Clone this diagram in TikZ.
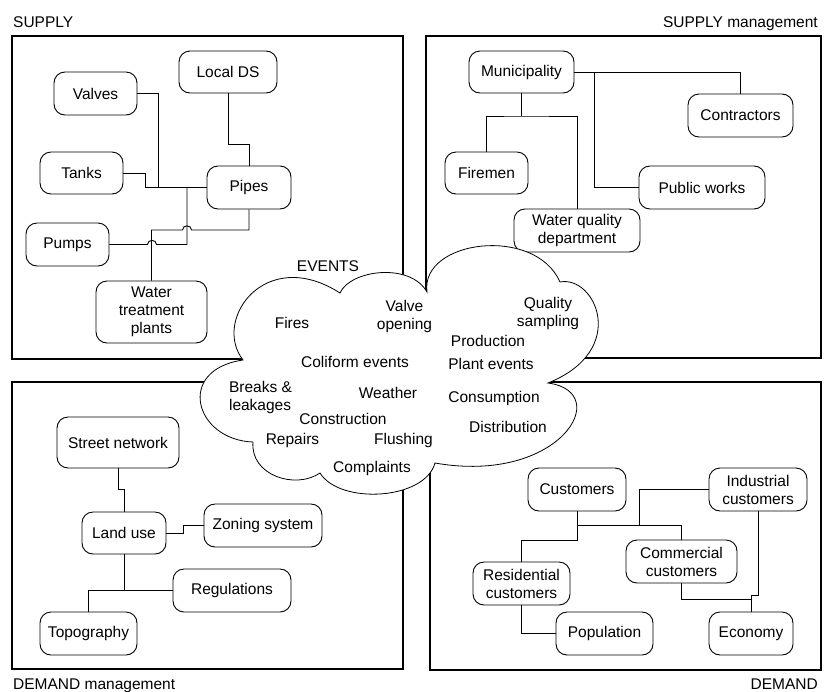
\documentclass[tikz,border=0pt]{standalone}
\usepackage{fontspec}
\setmainfont{Liberation Sans}
\begin{document}
\begin{tikzpicture}[x=1pt,y=-1pt,
  box/.style={draw, line width=0.9pt, rounded corners=11pt, align=center, inner sep=0pt, fill=white,
    font=\fontsize{15.5}{18}\selectfont},
  frame/.style={draw, line width=1.2pt},
  conn/.style={draw, line width=0.9pt},
  lbl/.style={inner sep=0pt, font=\fontsize{15.5}{18}\selectfont},
  ev/.style={inner sep=0pt, align=center, font=\fontsize{15.5}{18}\selectfont}]
\useasboundingbox (0,0) rectangle (827,691);
% frames
\path[frame] (12,36) rectangle (403,359);
\path[frame] (426,36) rectangle (821,358);
\path[frame] (12,382) rectangle (403,669);
\path[frame] (430,382) rectangle (821,670);
% corner labels
\node[lbl, anchor=base west] (lsup) at (13,27) {SUPPLY};
\node[lbl, anchor=base east] (lsupm) at (818,27) {SUPPLY management};
\node[lbl, anchor=base west] (ldemm) at (13,689) {DEMAND management};
\node[lbl, anchor=base east] (ldem) at (818,689) {DEMAND};
% ---------- SUPPLY ----------
\node[box, minimum width=98pt, minimum height=42pt] (localds) at (228,72) {Local DS};
\node[box, minimum width=83pt, minimum height=43pt] (valves) at (95.5,93.5) {Valves};
\node[box, minimum width=83pt, minimum height=42pt] (tanks) at (81.5,173) {Tanks};
\node[box, minimum width=84pt, minimum height=43pt] (pipes) at (249,187.5) {Pipes};
\node[box, minimum width=83pt, minimum height=43pt] (pumps) at (67.5,244.5) {Pumps};
\node[box, minimum width=111pt, minimum height=62pt] (wtp) at (151.5,312) {Water\\treatment\\plants};
\coordinate (jv) at (158,187.5);
\coordinate (jt) at (145,187.5);
\coordinate (jp) at (187,187.5);
\coordinate (jl) at (249,144);
\path[conn] (valves.east) -| (jv);
\path[conn] (tanks.east) -| (jt) -- (pipes.west);
\path[conn] (localds.south) |- (jl) -- (pipes.north);
\path[conn] (pumps.east) -- (147.5,244.5) .. controls (147.5,239) and (156.5,239) .. (156.5,244.5) -- (187,244.5) -- (jp);
\path[conn] (pipes.south) |- (191.5,230) .. controls (191.5,224.5) and (182.5,224.5) .. (182.5,230) -| (wtp.north);
% ---------- SUPPLY management ----------
\node[box, minimum width=105pt, minimum height=42pt] (muni) at (521.5,72) {Municipality};
\node[box, minimum width=105pt, minimum height=43pt] (contr) at (740.5,115.5) {Contractors};
\node[box, minimum width=83pt, minimum height=42pt] (firemen) at (486.5,173) {Firemen};
\node[box, minimum width=126pt, minimum height=43pt] (pw) at (702,187.5) {Public works};
\node[box, minimum width=126pt, minimum height=43pt] (wqd) at (577,230.5) {Water quality\\department};
\coordinate (jm) at (594,72);
\coordinate (jf) at (521.5,116);
\path[conn] (muni.east) -| (contr.north);
\path[conn] (jm) |- (pw.west);
\path[conn] (muni.south) -- (jf);
\path[conn] (firemen.north) |- (jf) -| (wqd.north);
% ---------- DEMAND management ----------
\node[box, minimum width=122pt, minimum height=51pt] (street) at (118,442.5) {Street network};
\node[box, minimum width=84pt, minimum height=42pt] (landuse) at (124,533) {Land use};
\node[box, minimum width=118pt, minimum height=43pt] (zoning) at (263,525.5) {Zoning system};
\node[box, minimum width=118pt, minimum height=43pt] (regs) at (232,590.5) {Regulations};
\node[box, minimum width=97pt, minimum height=43pt] (topo) at (88.5,633.5) {Topography};
\coordinate (js) at (118,489);
\coordinate (jz) at (183,533);
\coordinate (jr) at (124,590.5);
\path[conn] (street.south) -- (js) -| (landuse.north);
\path[conn] (landuse.east) -- (jz) |- (zoning.west);
\path[conn] (landuse.south) -- (jr) -- (regs.west);
\path[conn] (jr) -| (topo.north);
% ---------- DEMAND ----------
\node[box, minimum width=98pt, minimum height=43pt] (cust) at (577,489.5) {Customers};
\node[box, minimum width=98pt, minimum height=43pt] (indu) at (758,489.5) {Industrial\\customers};
\node[box, minimum width=111pt, minimum height=43pt] (comm) at (681.5,561.5) {Commercial\\customers};
\node[box, minimum width=97pt, minimum height=43pt] (resi) at (521.5,583.5) {Residential\\customers};
\node[box, minimum width=97pt, minimum height=43pt] (popu) at (604.5,633.5) {Population};
\node[box, minimum width=84pt, minimum height=43pt] (econ) at (751,633.5) {Economy};
\coordinate (jc) at (577,525);
\coordinate (ji) at (639,525);
\coordinate (jr2) at (577,540);
\coordinate (je) at (751,599);
\path[conn] (cust.south) -- (jc) -| (comm.north);
\path[conn] (ji) |- (indu.west);
\path[conn] (jc) -- (jr2) -| (resi.north);
\path[conn] (resi.south) |- (popu.west);
\path[conn] (comm.south) |- (je) -- (econ.north);
\path[conn] (indu.south) |- (751,595) -- (je);
% ---------- EVENTS cloud ----------
\path[draw, line width=0.8pt, fill=white]
  (243,360) .. controls (212,320) and (265,245) .. (340,293)
  .. controls (350,270) and (410,262) .. (427,292)
  .. controls (420,240) and (535,225) .. (560,282)
  .. controls (595,275) and (630,350) .. (548,383)
  .. controls (615,392) and (560,485) .. (435,463)
  .. controls (425,500) and (340,505) .. (320,473)
  .. controls (295,490) and (250,475) .. (253,442)
  .. controls (195,440) and (175,370) .. (243,360) -- cycle;
\node[lbl] (events) at (328,266) {EVENTS};
\node[ev] (e1) at (292,323) {Fires};
\node[ev] (e2) at (404.5,316) {Valve\\opening};
\node[ev] (e3) at (548,313) {Quality\\sampling};
\node[ev] (e4) at (488,341) {Production};
\node[ev] (e5) at (355,362) {Coliform events};
\node[ev] (e6) at (491,364) {Plant events};
\node[ev, align=left] (e7) at (260.5,397.5) {Breaks \&\\leakages};
\node[ev] (e8) at (388,393) {Weather};
\node[ev] (e9) at (494,398.5) {Consumption};
\node[ev] (e10) at (343,418.5) {Construction};
\node[ev] (e11) at (508,426.5) {Distribution};
\node[ev] (e12) at (292.5,440) {Repairs};
\node[ev] (e13) at (403.5,440) {Flushing};
\node[ev] (e14) at (372,468.5) {Complaints};
\end{tikzpicture}
\end{document}
